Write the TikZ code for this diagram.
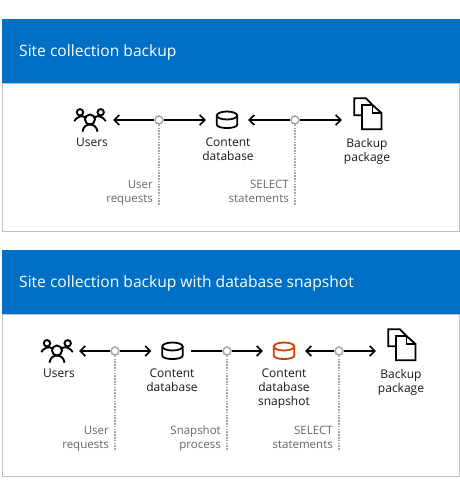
\documentclass[tikz,border=0pt]{standalone}
\usepackage{fontspec}
\setmainfont{Open Sans}
\usetikzlibrary{arrows.meta}
\definecolor{bandblue}{HTML}{0070C6}
\definecolor{panelgrey}{HTML}{BFBFBF}
\definecolor{dotgrey}{HTML}{A6A6A6}
\definecolor{notegrey}{HTML}{666666}
\definecolor{snaporange}{HTML}{D83B01}
\tikzset{
bandtext/.style={text=white,anchor=west,inner sep=0pt,font=\fontsize{15.6}{18}\selectfont},
panel/.style={draw=panelgrey,line width=1pt,fill=white},
iconbox/.style={inner sep=0pt,minimum height=20pt},
itemtext/.style={align=center,anchor=north,inner sep=0pt,text=black!90,font=\fontsize{12}{14}\selectfont},
notetext/.style={align=right,anchor=north east,inner sep=0pt,text=notegrey,font=\fontsize{11.5}{14}\selectfont},
joint/.style={circle,draw=dotgrey,fill=white,line width=1.6pt,minimum size=8pt,inner sep=0pt},
link/.style={line width=1.5pt},
linkarrow/.style={link,-{Straight Barb[length=5pt,width=10pt]}},
leader/.style={draw=dotgrey,line width=1.4pt,dash pattern=on 1.5pt off 1.3pt}
}
\newcommand{\usersicon}[1]{
\begin{scope}[shift={#1},line width=1.9pt,black]
\draw (0,-0.5) circle (5);
\draw (-10,-7.7) circle (3.2);
\draw (10.7,-7.7) circle (3.2);
\draw (-7.5,11.7) .. controls (-7,6.5) and (-3,4.5) .. (0,4.5) .. controls (3,4.5) and (7,6.5) .. (7.5,11.7);
\draw (-15.8,1) .. controls (-13,-3) and (-8,-5.5) .. (-4.5,-2.5);
\draw (15.8,1) .. controls (13,-3) and (8,-5.5) .. (4.5,-2.5);
\end{scope}}
\newcommand{\dbicon}[2]{
\begin{scope}[shift={#1},line width=1.8pt,#2]
\draw (0,-4.5) ellipse (10.2 and 4);
\draw (-10.2,-4.5) -- (-10.2,4.5) .. controls (-10.2,7) and (-5,8) .. (0,8) .. controls (5,8) and (10.2,7) .. (10.2,4.5) -- (10.2,-4.5);
\end{scope}}
\newcommand{\docicon}[1]{
\begin{scope}[shift={#1},line width=1.8pt,black]
\draw (-5,1.3) -- (-12.7,1.3) -- (-12.7,-15.7) -- (-1,-15.7) -- (5.5,-9);
\draw (-5,-9) -- (5.5,-9) -- (14.5,-1) -- (14.5,15.3) -- (-5,15.3) -- cycle;
\draw (5.5,-9) -- (5.5,-1) -- (14.5,-1);
\end{scope}}
\begin{document}
\begin{tikzpicture}[x=1pt,y=-1pt]
\useasboundingbox (0,0) rectangle (460,496);
\draw[panel] (2.5,83) rectangle (459,231);
\fill[bandblue] (2,19) rectangle (459.5,83);
\draw node[bandtext] (titleone) at (19,52) {Site collection backup};
\draw node[iconbox,minimum width=46pt] (usersone) at (90,120) {};
\draw node[iconbox,minimum width=42pt] (dbone) at (227,120) {};
\draw node[iconbox,minimum width=50pt] (docone) at (367,120) {};
\usersicon{(90,120)}
\dbicon{(227,120)}{black}
\docicon{(367,114)}
\draw node[itemtext] (usersonetext) at (92,138) {Users};
\draw node[itemtext] (dbonetext) at (228,138) {Content\\database};
\draw node[itemtext] (doconetext) at (367,138) {Backup\\package};
\draw node[joint] (jointa) at (159,120) {};
\draw node[joint] (jointb) at (295,120) {};
\draw[linkarrow] (jointa) -- (usersone);
\draw[linkarrow] (jointa) -- (dbone);
\draw[linkarrow] (jointb) -- (dbone);
\draw[linkarrow] (jointb) -- (docone);
\coordinate (enda) at (159,205);
\coordinate (endb) at (295,205);
\draw[leader] (jointa) -- (enda);
\draw[leader] (jointb) -- (endb);
\draw node[notetext] (notea) at (153,180) {User\\requests};
\draw node[notetext] (noteb) at (289,180) {SELECT\\statements};
\draw[panel] (2.5,314) rectangle (459,476);
\fill[bandblue] (2,250) rectangle (459.5,314);
\draw node[bandtext] (titletwo) at (19,283) {Site collection backup with database snapshot};
\draw node[iconbox,minimum width=46pt] (userstwo) at (56,351) {};
\draw node[iconbox,minimum width=42pt] (dbtwo) at (172.5,351) {};
\draw node[iconbox,minimum width=42pt] (snaptwo) at (284,351) {};
\draw node[iconbox,minimum width=50pt] (doctwo) at (401,351) {};
\usersicon{(57,351)}
\dbicon{(172.5,351)}{black}
\dbicon{(284,351)}{snaporange}
\docicon{(401,345)}
\draw node[itemtext] (userstwotext) at (59,369) {Users};
\draw node[itemtext] (dbtwotext) at (172,369) {Content\\database};
\draw node[itemtext] (snaptwotext) at (284,369) {Content\\database\\snapshot};
\draw node[itemtext] (doctwotext) at (401,369) {Backup\\package};
\draw node[joint] (jointc) at (115,351) {};
\draw node[joint] (jointd) at (227,351) {};
\draw node[joint] (jointe) at (339,351) {};
\draw[linkarrow] (jointc) -- (userstwo);
\draw[linkarrow] (jointc) -- (dbtwo);
\draw[link,shorten <=-2.5pt] (dbtwo) -- (jointd);
\draw[linkarrow] (jointd) -- (snaptwo);
\draw[linkarrow] (jointe) -- (snaptwo);
\draw[linkarrow] (jointe) -- (doctwo);
\coordinate (endc) at (115,451);
\coordinate (endd) at (227,451);
\coordinate (ende) at (339,451);
\draw[leader] (jointc) -- (endc);
\draw[leader] (jointd) -- (endd);
\draw[leader] (jointe) -- (ende);
\draw node[notetext] (notec) at (109,426) {User\\requests};
\draw node[notetext] (noted) at (221,426) {Snapshot\\process};
\draw node[notetext] (notee) at (333,426) {SELECT\\statements};
\end{tikzpicture}
\end{document}
